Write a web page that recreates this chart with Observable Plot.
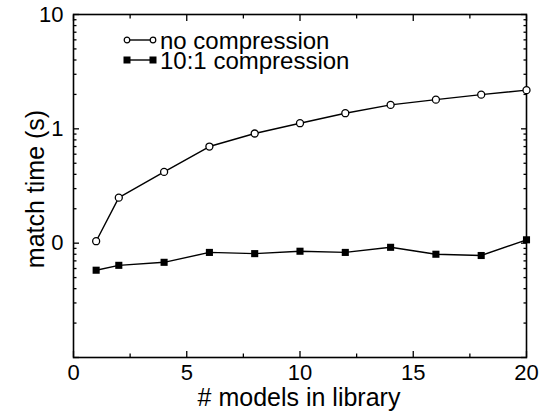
<!DOCTYPE html>
<html><head><meta charset="utf-8">
<script src="https://cdn.jsdelivr.net/npm/d3@7"></script>
<script src="https://cdn.jsdelivr.net/npm/@observablehq/plot@0.6"></script>
<style>
body{margin:0;background:#fff;}
#wrap{position:relative;width:552px;height:412px;font-family:"Liberation Sans",Arial,sans-serif;color:#000;}
#legend{position:absolute;left:123px;top:30px;font-size:24px;line-height:20px;}
#legend .row{display:flex;align-items:center;height:20px;white-space:nowrap;}
#legend .row span{position:relative;top:1px;}
#legend svg{margin-right:3px;flex:none;}
.axlabel{position:absolute;font-size:25px;line-height:25px;white-space:nowrap;}
#xlabel{left:299px;top:385px;transform:translateX(-50%);}
#ylabel{left:35px;top:189px;transform:translate(-50%,-50%) rotate(-90deg);}
</style>
</head><body><div id="wrap"><div id="legend"></div><div id="xlabel" class="axlabel"></div><div id="ylabel" class="axlabel"></div></div>
<script>
const modelCounts = [1, 2, 4, 6, 8, 10, 12, 14, 16, 18, 20];
const noCompression = [0.104, 0.25, 0.42, 0.70, 0.91, 1.12, 1.37, 1.62, 1.80, 1.99, 2.18];
const compressed = [0.058, 0.064, 0.068, 0.083, 0.081, 0.085, 0.083, 0.092, 0.080, 0.078, 0.107];
const seriesNames = ["no compression", "10:1 compression"];
const xAxisLabel = "# models in library";
const yAxisLabel = "match time (s)";
const xMajorTicks = [0, 5, 10, 15, 20];
const xMinorTicks = [2.5, 7.5, 12.5, 17.5];
const yLabelTicks = [10, 1, 0.1];
const yLabelText = ["10", "1", "0"];
const yMajorTicks = [0.01, 0.1, 1, 10];
const yMinorTicks = [0.02, 0.03, 0.04, 0.05, 0.06, 0.07, 0.08, 0.09,
                     0.2, 0.3, 0.4, 0.5, 0.6, 0.7, 0.8, 0.9,
                     2, 3, 4, 5, 6, 7, 8, 9];

const seriesA = modelCounts.map((x, i) => ({x, y: noCompression[i]}));
const seriesB = modelCounts.map((x, i) => ({x, y: compressed[i]}));

const blank = () => "";
const tickMarks = [];
for (const anchor of ["left", "right"]) {
  tickMarks.push(Plot.axisY(yMajorTicks, {anchor, tickSize: -6, tickFormat: blank, label: null, strokeWidth: 1.3}));
  tickMarks.push(Plot.axisY(yMinorTicks, {anchor, tickSize: -3.5, tickFormat: blank, label: null, strokeWidth: 1.3}));
}
for (const anchor of ["bottom", "top"]) {
  tickMarks.push(Plot.axisX(xMajorTicks, {anchor, tickSize: -6, tickFormat: blank, label: null, strokeWidth: 1.3}));
  tickMarks.push(Plot.axisX(xMinorTicks, {anchor, tickSize: -3.5, tickFormat: blank, label: null, strokeWidth: 1.3}));
}

const chart = Plot.plot({
  width: 552,
  height: 412,
  marginLeft: 73,
  marginRight: 26,
  marginTop: 14,
  marginBottom: 55,
  style: {fontFamily: "Liberation Sans, Arial, sans-serif", fontSize: "22px", color: "#000", background: "#fff"},
  x: {domain: [0, 20]},
  y: {type: "log", domain: [0.01, 10]},
  marks: [
    ...tickMarks,
    Plot.axisY(yLabelTicks, {anchor: "left", tickSize: 0, tickPadding: 10,
      tickFormat: d => yLabelText[yLabelTicks.indexOf(d)], label: null, fontSize: 22}),
    Plot.axisX(xMajorTicks, {anchor: "bottom", tickSize: 0, tickPadding: 7,
      tickFormat: d => String(d), label: null, fontSize: 22}),
    Plot.frame({stroke: "#000", strokeWidth: 1.6}),
    Plot.line(seriesA, {x: "x", y: "y", stroke: "#000", strokeWidth: 1.4}),
    Plot.line(seriesB, {x: "x", y: "y", stroke: "#000", strokeWidth: 1.4}),
    Plot.dot(seriesA, {x: "x", y: "y", r: 3.5, symbol: "circle", stroke: "#000", fill: "#fff", strokeWidth: 1.3}),
    Plot.dot(seriesB, {x: "x", y: "y", r: 4, symbol: "square", fill: "#000", stroke: "none"})
  ]
});
document.getElementById("wrap").prepend(chart);
document.getElementById("xlabel").textContent = xAxisLabel;
document.getElementById("ylabel").textContent = yAxisLabel;

const legend = document.getElementById("legend");
const icons = [
  `<svg width="34" height="14"><line x1="4" y1="7" x2="30" y2="7" stroke="#000" stroke-width="1.4"/><circle cx="4" cy="7" r="2.8" fill="#fff" stroke="#000" stroke-width="1.2"/><circle cx="30" cy="7" r="2.8" fill="#fff" stroke="#000" stroke-width="1.2"/></svg>`,
  `<svg width="34" height="14"><line x1="4" y1="7" x2="30" y2="7" stroke="#000" stroke-width="1.4"/><rect x="0.5" y="3.5" width="7" height="7" fill="#000"/><rect x="26.5" y="3.5" width="7" height="7" fill="#000"/></svg>`
];
seriesNames.forEach((name, i) => {
  const row = document.createElement("div");
  row.className = "row";
  row.innerHTML = icons[i];
  const span = document.createElement("span");
  span.textContent = name;
  row.appendChild(span);
  legend.appendChild(row);
});
</script>
</body></html>
